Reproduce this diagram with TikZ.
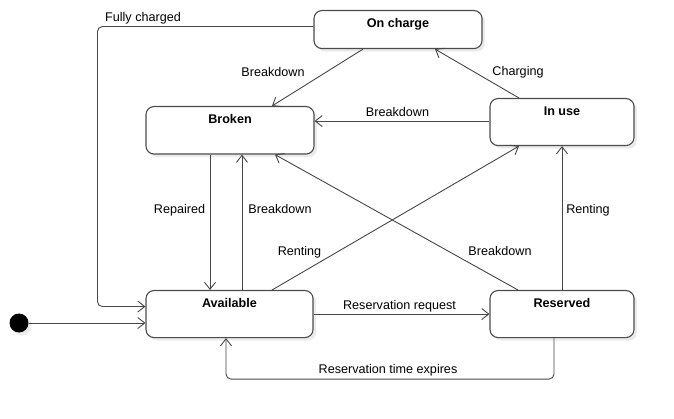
\documentclass[tikz,border=0pt]{standalone}
\usepackage{fontspec}
\setmainfont{Liberation Sans}
\usetikzlibrary{calc,shadows}
\usetikzlibrary {arrows.meta}
\usetikzlibrary {positioning}

\begin{document}
\begin{tikzpicture} [x=1pt,y=-1pt,
	font=\fontsize{12.6}{15}\selectfont,
	statebox/.style={draw=black!70,line width=1.1pt,fill=white,rounded corners=8pt,
		inner sep=0pt,text height=16.5pt,text depth=31pt,font=\fontsize{12.6}{15}\selectfont\bfseries,
		drop shadow={shadow xshift=3pt,shadow yshift=-3pt,fill=black!8,opacity=1}},
	trans/.style={draw=black!72,line width=0.9pt,->,rounded corners=5pt},
	lbl/.style={anchor=base,inner sep=0pt},
	>={Straight Barb[length=7pt,width=11pt]}]
	\useasboundingbox (0,0) rectangle (674,419);

		% states
\node[statebox,minimum width=168pt,text depth=21.5pt] (oncharge) at (398,10) [anchor=north] {On charge};
\node[statebox,minimum width=168pt] (broken) at (230,106) [anchor=north] {Broken};
\node[statebox,minimum width=144pt,text depth=30.5pt] (inuse) at (562,98) [anchor=north] {In use};
\node[statebox,minimum width=167pt,text depth=30.5pt] (available) at (229.5,290) [anchor=north] {Available};
\node[statebox,minimum width=144pt,text depth=30.5pt] (reserved) at (562,290) [anchor=north] {Reserved};
\node[circle,fill=black,minimum size=19pt,inner sep=0pt,
	drop shadow={shadow xshift=3pt,shadow yshift=-3pt,fill=black!8,opacity=1}] (init) at (19,323) {};

		% transitions
\draw[trans] (init.east) -- (available.west |- init);
\draw[trans] ($(oncharge.west)+(0,-3)$) -| ($(available.west)+(-48,-7.5)$) -- ($(available.west)+(0,-7.5)$);
\node[lbl] (fullylbl) at (143,21.5) {Fully charged};

\draw[trans] ($(oncharge.south)+(-35,0)$) -- ($(broken.north)+(42,0)$);
\node[lbl] (bd1lbl) at (273,76.5) {Breakdown};

\draw[trans] ($(inuse.north)+(-43,0)$) -- ($(oncharge.south)+(37,0)$);
\node[lbl] (chglbl) at (518,75.5) {Charging};

\draw[trans] ($(inuse.west)+(0,-1)$) coordinate (bdi) -- (broken.east |- bdi);
\node[lbl] (bd2lbl) at (397.5,117) {Breakdown};

\draw[trans] ($(broken.south)+(-20,0)$) coordinate (rep) -- (rep |- available.north);
\node[lbl] (replbl) at (179.5,213.5) {Repaired};

\draw[trans] ($(available.north)+(12.5,0)$) coordinate (bda) -- (bda |- broken.south);
\node[lbl] (bd3lbl) at (280,213.5) {Breakdown};

\draw[trans] ($(available.north)+(42.5,0)$) -- ($(inuse.south)+(-43,0)$);
\node[lbl] (rent1lbl) at (299.5,256) {Renting};

\draw[trans] ($(reserved.north)+(-44,0)$) -- ($(broken.south)+(45,0)$);
\node[lbl] (bd4lbl) at (500,256) {Breakdown};

\draw[trans] (reserved.north) -- (inuse.south);
\node[lbl] (rent2lbl) at (588,213.5) {Renting};

\draw[trans] (available.east) -- (reserved.west);
\node[lbl] (reqlbl) at (399.5,309.5) {Reservation request};

\draw[trans] ($(reserved.south)+(-8,0)$) -- ++(0,41) -| ($(available.south)+(-3.5,0)$);
\node[lbl] (explbl) at (388,373.5) {Reservation time expires};
	\end{tikzpicture}
\end{document}
